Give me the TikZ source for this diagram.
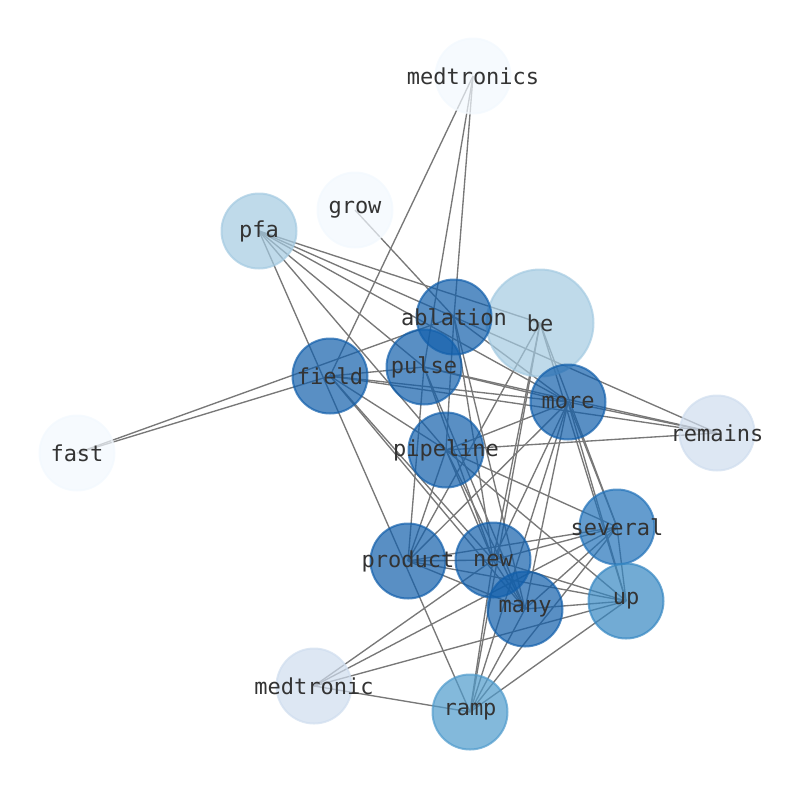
\documentclass[tikz,border=0pt]{standalone}
\usepackage{fontspec}
\newfontfamily\monof{DejaVu Sans Mono}
\definecolor{cA}{RGB}{18,95,171}
\definecolor{cB}{RGB}{34,114,185}
\definecolor{cC}{RGB}{54,135,194}
\definecolor{cD}{RGB}{79,155,204}
\definecolor{cE}{RGB}{164,202,225}
\definecolor{cF}{RGB}{207,221,238}
\definecolor{cG}{RGB}{242,248,254}
\definecolor{labelc}{RGB}{51,51,51}
\definecolor{edgec}{RGB}{120,120,120}
\begin{document}
\begin{tikzpicture}[x=1pt,y=-1pt,
  nd/.style={circle, minimum size=75pt, inner sep=0pt, draw=#1, fill=#1, opacity=0.7, line width=2pt},
  big/.style={minimum size=107pt},
  lbl/.style={font=\monof\fontsize{22}{26}\selectfont, text=labelc, inner sep=0pt},
  ed/.style={draw=edgec, line width=1.35pt}]
\useasboundingbox (0,0) rectangle (794,790);
% positions
\coordinate (medtronics) at (473,76);
\coordinate (grow) at (355,210);
\coordinate (pfa) at (259,231);
\coordinate (ablation) at (454,317);
\coordinate (be) at (540,323);
\coordinate (pulse) at (424,367);
\coordinate (field) at (330,376);
\coordinate (more) at (568,402);
\coordinate (remains) at (717,433);
\coordinate (fast) at (77,453);
\coordinate (pipeline) at (446,450);
\coordinate (several) at (617,527);
\coordinate (product) at (408,561);
\coordinate (new) at (493,560);
\coordinate (many) at (525,609);
\coordinate (up) at (626,601);
\coordinate (medtronic) at (314,686);
\coordinate (ramp) at (470,712);
% edges
\foreach \a/\b in {medtronics/field, medtronics/pulse, medtronics/ablation,
  grow/ablation, fast/field, fast/ablation,
  pfa/ramp, pfa/pipeline, pfa/pulse, pfa/more, pfa/remains, pfa/be,
  ablation/pipeline, ablation/many, ablation/new, ablation/more,
  field/pulse, field/more, field/remains, field/pipeline, field/new, field/many,
  pulse/more, pulse/remains, pulse/new, pulse/many, pulse/product,
  be/product, be/new, be/ramp, be/up, be/several,
  more/remains, more/pipeline, more/product, more/new, more/many, more/ramp, more/several, more/up,
  remains/pipeline, pipeline/several, pipeline/product, pipeline/new, pipeline/many, pipeline/up,
  product/new, product/several, product/many, product/up,
  new/several, new/many, new/up, new/ramp, new/medtronic,
  many/several, many/up, many/ramp,
  several/up, several/medtronic, several/ramp,
  up/medtronic, up/ramp, medtronic/ramp}
  {\draw[ed] (\a) -- (\b);}
% node circles
\node[nd=cG] (medtronics-c) at (medtronics) {};
\node[nd=cG] (grow-c) at (grow) {};
\node[nd=cE] (pfa-c) at (pfa) {};
\node[nd=cE,big] (be-c) at (be) {};
\node[nd=cA] (ablation-c) at (ablation) {};
\node[nd=cA] (pulse-c) at (pulse) {};
\node[nd=cA] (field-c) at (field) {};
\node[nd=cA] (more-c) at (more) {};
\node[nd=cF] (remains-c) at (remains) {};
\node[nd=cG] (fast-c) at (fast) {};
\node[nd=cA] (pipeline-c) at (pipeline) {};
\node[nd=cB] (several-c) at (several) {};
\node[nd=cA] (product-c) at (product) {};
\node[nd=cA] (new-c) at (new) {};
\node[nd=cA] (many-c) at (many) {};
\node[nd=cC] (up-c) at (up) {};
\node[nd=cF] (medtronic-c) at (medtronic) {};
\node[nd=cD] (ramp-c) at (ramp) {};
% labels
\foreach \n in {medtronics,grow,pfa,be,ablation,pulse,field,more,remains,fast,pipeline,several,product,new,many,up,medtronic,ramp}
  {\node[lbl] (\n-t) at (\n) {\n};}
\end{tikzpicture}
\end{document}
